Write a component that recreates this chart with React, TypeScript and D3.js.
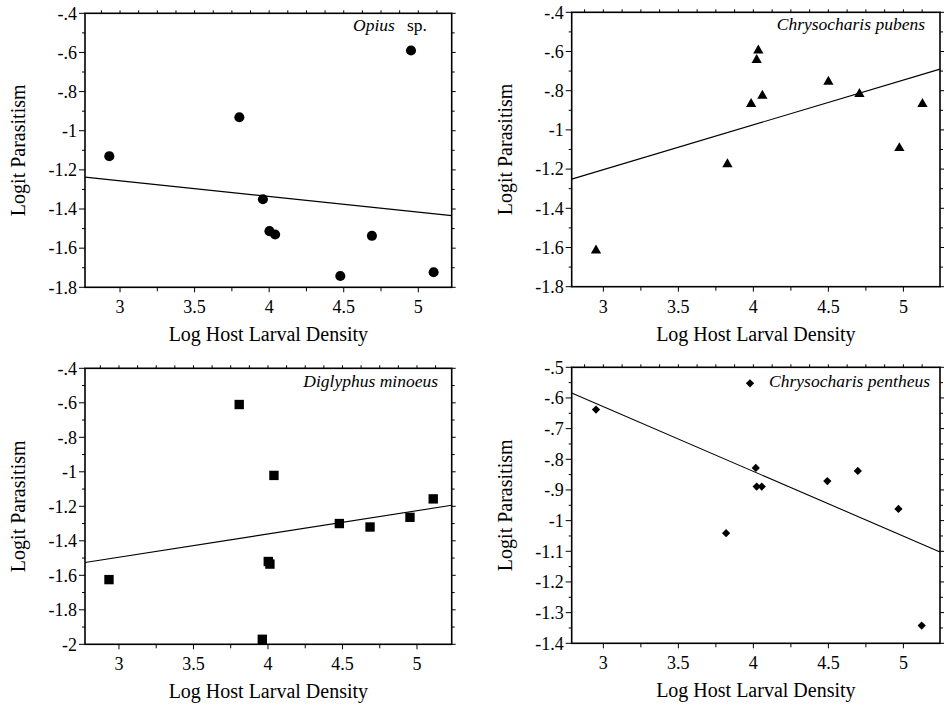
import React from "react";
import * as d3 from "d3";

// ---------- data ----------
const opiusX = [2.928, 3.8, 3.958, 4.002, 4.04, 4.477, 4.689, 4.951, 5.103];
const opiusY = [-1.13, -0.931, -1.35, -1.513, -1.53, -1.742, -1.537, -0.59, -1.723];

const pubensX = [2.951, 3.827, 3.985, 4.022, 4.033, 4.06, 4.5, 4.707, 4.973, 5.127];
const pubensY = [-1.615, -1.175, -0.868, -0.643, -0.595, -0.826, -0.754, -0.817, -1.093, -0.868];

const diglyphusX = [2.933, 3.807, 3.962, 4.002, 4.013, 4.04, 4.479, 4.685, 4.953, 5.109];
const diglyphusY = [-1.625, -0.61, -1.971, -1.52, -1.535, -1.021, -1.3, -1.32, -1.264, -1.157];

const pentheusX = [2.951, 3.818, 4.016, 4.022, 4.056, 4.493, 4.696, 4.967, 5.122];
const pentheusY = [-0.638, -1.041, -0.828, -0.889, -0.889, -0.871, -0.838, -0.962, -1.342];

// regression lines: [intercept, slope]
const opiusFit = [-1.0155, -0.0801];
const pubensFit = [-1.8883, 0.2285];
const diglyphusFit = [-1.9, 0.1349];
const pentheusFit = [0.0045, -0.211];

const xTickLabels = [3, 3.5, 4, 4.5, 5];
const yTicksA = [-0.4, -0.6, -0.8, -1, -1.2, -1.4, -1.6, -1.8];
const yTicksB = [-0.4, -0.6, -0.8, -1, -1.2, -1.4, -1.6, -1.8, -2];
const yTicksC = [-0.5, -0.6, -0.7, -0.8, -0.9, -1, -1.1, -1.2, -1.3, -1.4];

const xTitle = "Log Host Larval Density";
const yTitle = "Logit Parasitism";

const SERIF = '"Liberation Serif", "Times New Roman", Times, "DejaVu Serif", serif';

function fmt(v: number): string {
  let s = String(+v.toFixed(3));
  s = s.replace("-0.", "-.").replace(/^0\./, ".");
  return s;
}

type PanelProps = {
  left: number;
  right: number;
  top: number;
  bottom: number;
  xDomain: [number, number];
  yDomain: [number, number];
  yTicks: number[];
  yMinorStep: number;
  xs: number[];
  ys: number[];
  fit: number[];
  symbol: "circle" | "triangle" | "square" | "diamond";
  label: React.ReactNode;
  legend?: [number, number];
};

function symbolPath(kind: string): string {
  if (kind === "circle") return d3.symbol(d3.symbolCircle, 80)() as string;
  if (kind === "triangle") return d3.symbol(d3.symbolTriangle, 46)() as string;
  if (kind === "square") return d3.symbol(d3.symbolSquare, 88)() as string;
  return d3.symbol(d3.symbolSquare, 34)() as string;
}

const serifStyle: React.CSSProperties = { fontFamily: SERIF };

function Panel(p: PanelProps) {
  const x = d3.scaleLinear().domain(p.xDomain).range([p.left, p.right]);
  const y = d3.scaleLinear().domain(p.yDomain).range([p.bottom, p.top]);
  const path = symbolPath(p.symbol);
  const rot = p.symbol === "diamond" ? " rotate(45)" : "";

  const eps = 1e-6;
  const xMinor: number[] = [];
  for (let v = Math.ceil(p.xDomain[0] / 0.25) * 0.25; v <= p.xDomain[1] + eps; v += 0.25) xMinor.push(+v.toFixed(3));
  const xTop: number[] = [];
  for (let v = Math.ceil(p.xDomain[0] / 0.125) * 0.125; v <= p.xDomain[1] + eps; v += 0.125) xTop.push(+v.toFixed(4));
  const yMinor: number[] = [];
  for (let v = p.yDomain[0]; v <= p.yDomain[1] + eps; v += p.yMinorStep) yMinor.push(+v.toFixed(3));

  const line = d3
    .line<number>()
    .x((d) => x(d))
    .y((d) => y(p.fit[0] + p.fit[1] * d));

  const cx = (p.left + p.right) / 2;
  const cy = (p.top + p.bottom) / 2;
  const isMajorX = (v: number) => Math.abs(v * 2 - Math.round(v * 2)) < 1e-6;
  const isMajorY = (v: number) => p.yTicks.some((t) => Math.abs(t - v) < 1e-6);

  return (
    <g style={serifStyle}>
      {xMinor.map((v, i) => (
        <line key={"xb" + i} x1={x(v)} x2={x(v)} y1={p.bottom} y2={p.bottom + (isMajorX(v) ? 5 : 4)} stroke="#000" strokeWidth={1} />
      ))}
      {xTop.map((v, i) => (
        <line key={"xt" + i} x1={x(v)} x2={x(v)} y1={p.top} y2={p.top - 3} stroke="#000" strokeWidth={1} />
      ))}
      {yMinor.map((v, i) => (
        <g key={"y" + i}>
          <line x1={p.left} x2={p.left - (isMajorY(v) ? 6 : 3)} y1={y(v)} y2={y(v)} stroke="#000" strokeWidth={1} />
          <line x1={p.right} x2={p.right + (isMajorY(v) ? 4 : 3)} y1={y(v)} y2={y(v)} stroke="#000" strokeWidth={1} />
        </g>
      ))}
      <rect x={p.left} y={p.top} width={p.right - p.left} height={p.bottom - p.top} fill="none" stroke="#000" strokeWidth={1.6} />
      {p.yTicks.map((v, i) => (
        <text key={"yl" + i} x={p.left - 8} y={y(v)} dy="0.35em" textAnchor="end" style={serifStyle} fontSize={18}>
          {fmt(v)}
        </text>
      ))}
      {xTickLabels.map((v, i) => (
        <text key={"xl" + i} x={x(v)} y={p.bottom + 26} textAnchor="middle" style={serifStyle} fontSize={18}>
          {fmt(v)}
        </text>
      ))}
      <text x={cx} y={p.bottom + 54} textAnchor="middle" style={serifStyle} fontSize={20}>
        {xTitle}
      </text>
      <text
        transform={`translate(${p.left - 60},${cy}) rotate(-90)`}
        textAnchor="middle"
        style={serifStyle}
        fontSize={20}
      >
        {yTitle}
      </text>
      <path d={line(p.xDomain) as string} fill="none" stroke="#000" strokeWidth={1.1} />
      {p.xs.map((v, i) => (
        <path key={"pt" + i} d={path} transform={`translate(${x(v)},${y(p.ys[i])})${rot}`} fill="#000" />
      ))}
      {p.legend && (
        <path d={path} transform={`translate(${p.legend[0]},${p.legend[1]})${rot}`} fill="#000" />
      )}
      {p.label}
    </g>
  );
}

export default function App() {
  return (
    <div style={{ position: "absolute", left: 0, top: 0, width: 945, height: 706, background: "#fff" }}>
      <svg width={945} height={706} viewBox="0 0 945 706" style={{ display: "block", fontFamily: SERIF }}>
        <rect width={945} height={706} fill="#fff" />
        <Panel
          left={85}
          right={451.7}
          top={13.3}
          bottom={287.3}
          xDomain={[2.765, 5.224]}
          yDomain={[-1.8, -0.4]}
          yTicks={yTicksA}
          yMinorStep={0.1}
          xs={opiusX}
          ys={opiusY}
          fit={opiusFit}
          symbol="circle"
          label={
            <text y={31} style={serifStyle} fontSize={17.5}>
              <tspan x={353} fontStyle="italic">Opius</tspan>
              <tspan x={407}>sp.</tspan>
            </text>
          }
        />
        <Panel
          left={571.7}
          right={940}
          top={12.3}
          bottom={286.7}
          xDomain={[2.789, 5.244]}
          yDomain={[-1.8, -0.4]}
          yTicks={yTicksA}
          yMinorStep={0.1}
          xs={pubensX}
          ys={pubensY}
          fit={pubensFit}
          symbol="triangle"
          label={
            <text x={925} y={30} textAnchor="end" style={serifStyle} fontSize={17.5} fontStyle="italic">
              Chrysocharis pubens
            </text>
          }
        />
        <Panel
          left={85}
          right={451.7}
          top={368.3}
          bottom={644.3}
          xDomain={[2.772, 5.233]}
          yDomain={[-2, -0.4]}
          yTicks={yTicksB}
          yMinorStep={0.1}
          xs={diglyphusX}
          ys={diglyphusY}
          fit={diglyphusFit}
          symbol="square"
          label={
            <text x={438} y={387} textAnchor="end" style={serifStyle} fontSize={17.5} fontStyle="italic">
              Diglyphus minoeus
            </text>
          }
        />
        <Panel
          left={571.7}
          right={940}
          top={367.3}
          bottom={643.3}
          xDomain={[2.789, 5.244]}
          yDomain={[-1.4, -0.5]}
          yTicks={yTicksC}
          yMinorStep={0.05}
          xs={pentheusX}
          ys={pentheusY}
          fit={pentheusFit}
          symbol="diamond"
          legend={[750, 383.3]}
          label={
            <text x={930} y={387} textAnchor="end" style={serifStyle} fontSize={17.5} fontStyle="italic">
              Chrysocharis pentheus
            </text>
          }
        />
      </svg>
    </div>
  );
}
